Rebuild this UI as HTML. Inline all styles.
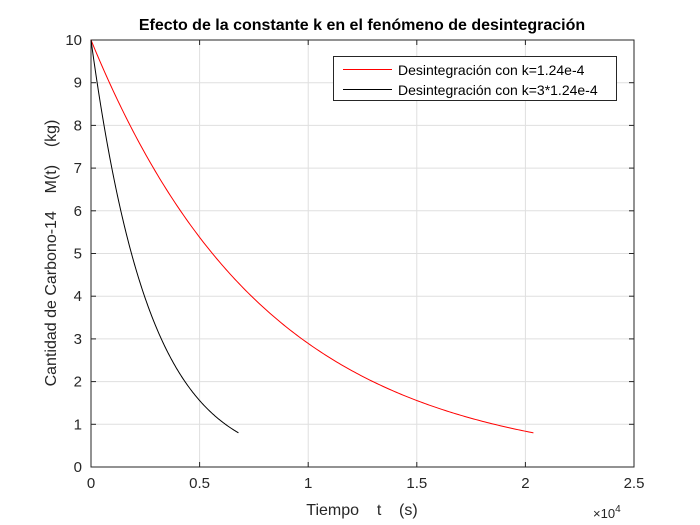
<!DOCTYPE html>
<html><head><meta charset="utf-8"><style>body{margin:0;background:#fff}svg{display:block}</style></head>
<body>
<svg id="s" width="700" height="525" xmlns="http://www.w3.org/2000/svg" font-family="Liberation Sans, sans-serif">
<rect width="700" height="525" fill="#fff"/>
<g id="grid" stroke="#dfdfdf" stroke-width="1"></g>
<rect x="91" y="40" width="543" height="427" fill="none" stroke="#262626"/>
<g id="ticks" stroke="#262626"></g>
<g id="lab" font-size="15" fill="#262626"></g>
<path id="red" fill="none" stroke="#ff0000" stroke-width="1"/>
<path id="blk" fill="none" stroke="#000" stroke-width="1"/>
<text x="362" y="30" text-anchor="middle" font-size="16" font-weight="bold" fill="#000">Efecto de la constante k en el fenómeno de desintegración</text>
<text x="362" y="515" text-anchor="middle" font-size="16" fill="#262626" xml:space="preserve">Tiempo    t    (s)</text>
<text transform="translate(56,253) rotate(-90)" text-anchor="middle" font-size="16" fill="#262626" xml:space="preserve">Cantidad de Carbono-14    M(t)    (kg)</text>
<text x="593" y="518" font-size="13" fill="#262626">×10<tspan dy="-6" font-size="10">4</tspan></text>
<rect x="333.5" y="56.5" width="283" height="44" fill="#fff" stroke="#262626"/>
<line x1="343" y1="69.5" x2="392" y2="69.5" stroke="#f00"/>
<line x1="343" y1="89.5" x2="392" y2="89.5" stroke="#000"/>
<text x="398" y="75" font-size="14" fill="#000">Desintegración con k=1.24e-4</text>
<text x="398" y="95" font-size="14" fill="#000">Desintegración con k=3*1.24e-4</text>
</svg>
<script>
const X=t=>91+t/25000*543, Y=m=>467-m*42.7;
let g='',tk='',lb='';
for(let i=0;i<=5;i++){const x=X(i*5000);
 if(i>0&&i<5)g+=`<line x1="${x}" y1="40" x2="${x}" y2="467"/>`;
 tk+=`<line x1="${x}" y1="467" x2="${x}" y2="462"/><line x1="${x}" y1="40" x2="${x}" y2="45"/>`;
 lb+=`<text x="${x}" y="488" text-anchor="middle">${['0','0.5','1','1.5','2','2.5'][i]}</text>`;}
for(let j=0;j<=10;j++){const y=Y(j);
 if(j>0&&j<10)g+=`<line x1="91" y1="${y}" x2="634" y2="${y}"/>`;
 tk+=`<line x1="91" y1="${y}" x2="96" y2="${y}"/><line x1="634" y1="${y}" x2="629" y2="${y}"/>`;
 lb+=`<text x="82" y="${y+5}" text-anchor="end">${j}</text>`;}
document.getElementById('grid').innerHTML=g;
document.getElementById('ticks').innerHTML=tk;
document.getElementById('lab').innerHTML=lb;
function p(k){const T=Math.log(12.5)/k;let d='';for(let i=0;i<=200;i++){const t=T*i/200;d+=(i?'L':'M')+X(t).toFixed(2)+' '+Y(10*Math.exp(-k*t)).toFixed(2);}return d;}
document.getElementById('red').setAttribute('d',p(1.24e-4));
document.getElementById('blk').setAttribute('d',p(3*1.24e-4));
</script>
</body></html>
